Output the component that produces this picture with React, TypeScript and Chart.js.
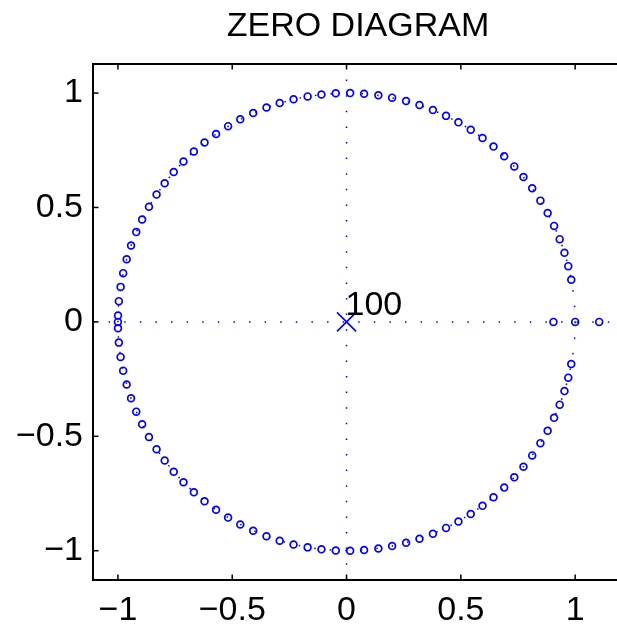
import React, { useEffect, useRef } from 'react';
import { Chart, registerables } from 'chart.js';

Chart.register(...registerables);

// Zeros on the unit circle, angle in degrees (upper half)
const zeroAnglesUpper = [
  178.4, 174.8, 171.2, 167.7, 164.1, 160.5, 156.9, 153.4, 149.8, 146.2,
  142.7, 139.1, 135.5, 131.9, 128.4, 124.8, 121.2, 117.7, 114.1, 110.5,
  107.0, 103.4, 99.8, 96.3, 92.7, 89.1, 85.6, 82.0, 78.5, 74.9,
  71.4, 67.8, 64.2, 60.7, 57.1, 53.5, 50.0, 46.4, 42.8, 39.3,
  35.7, 32.0, 28.4, 24.8, 21.2, 17.6, 14.1, 10.6,
];
// Lower half (conjugates)
const zeroAnglesLower = [
  -178.4, -174.8, -171.2, -167.7, -164.1, -160.5, -156.9, -153.4, -149.8, -146.2,
  -142.7, -139.1, -135.5, -131.9, -128.4, -124.8, -121.2, -117.7, -114.1, -110.5,
  -107.0, -103.4, -99.8, -96.3, -92.7, -89.1, -85.6, -82.0, -78.5, -74.9,
  -71.4, -67.8, -64.2, -60.7, -57.1, -53.5, -50.0, -46.4, -42.8, -39.3,
  -35.7, -32.0, -28.4, -24.8, -21.2, -17.6, -14.1, -10.6,
];
const zeroAngleMinusOne = [180];
// Zeros on the real axis
const realZeros = [0.905, 1.0, 1.105];

// Pole
const poleRe = [0];
const poleIm = [0];
const poleMultiplicity = '100';

const titleText = 'ZERO DIAGRAM';
const xTicks = [-1, -0.5, 0, 0.5, 1];
const xTickLabels = ['\u22121', '\u22120.5', '0', '0.5', '1'];
const yTicks = [-1, -0.5, 0, 0.5, 1];
const yTickLabels = ['\u22121', '\u22120.5', '0', '0.5', '1'];

const X_MIN = -1.109;
const X_MAX = 1.183;
const Y_MIN = -1.128;
const Y_MAX = 1.127;

const BLUE = '#0000ff';
const FONT_FAMILY = '"Liberation Sans", Arial, Helvetica, sans-serif';
const FONT_SIZE = 34;

const zplanePlugin = {
  id: 'zplaneDecor',
  beforeDatasetsDraw(chart: any) {
    const { ctx, chartArea: a, scales } = chart;
    const x = scales.x;
    const y = scales.y;
    const x0 = x.getPixelForValue(0);
    const y0 = y.getPixelForValue(0);
    const r = x.getPixelForValue(1) - x0;
    ctx.save();
    ctx.beginPath();
    ctx.rect(a.left, a.top, a.right - a.left, a.bottom - a.top);
    ctx.clip();
    ctx.strokeStyle = BLUE;
    ctx.lineWidth = 1.5;
    ctx.setLineDash([1.5, 14.1]);
    ctx.beginPath();
    ctx.moveTo(a.left, y0);
    ctx.lineTo(a.right, y0);
    ctx.stroke();
    ctx.beginPath();
    ctx.moveTo(x0, a.top);
    ctx.lineTo(x0, a.bottom);
    ctx.stroke();
    ctx.beginPath();
    ctx.arc(x0, y0, r, 0, Math.PI * 2);
    ctx.stroke();
    ctx.restore();
  },
  afterDraw(chart: any) {
    const { ctx, chartArea: a, scales } = chart;
    const x = scales.x;
    const y = scales.y;
    ctx.save();
    ctx.strokeStyle = '#000';
    ctx.lineWidth = 2;
    ctx.setLineDash([]);
    // top border
    ctx.beginPath();
    ctx.moveTo(a.left - 1, a.top);
    ctx.lineTo(a.right, a.top);
    ctx.stroke();
    // inward ticks
    ctx.lineWidth = 1.5;
    const tl = 5.5;
    xTicks.forEach((v) => {
      const px = x.getPixelForValue(v);
      ctx.beginPath();
      ctx.moveTo(px, a.bottom);
      ctx.lineTo(px, a.bottom - tl);
      ctx.moveTo(px, a.top);
      ctx.lineTo(px, a.top + tl);
      ctx.stroke();
    });
    yTicks.forEach((v) => {
      const py = y.getPixelForValue(v);
      ctx.beginPath();
      ctx.moveTo(a.left, py);
      ctx.lineTo(a.left + tl, py);
      ctx.stroke();
    });
    // title
    ctx.fillStyle = '#000';
    ctx.font = `${FONT_SIZE}px ${FONT_FAMILY}`;
    ctx.textAlign = 'center';
    ctx.textBaseline = 'alphabetic';
    ctx.fillText(titleText, (a.left + a.right) / 2 + 3, 36);
    // multiplicity label
    const px0 = x.getPixelForValue(poleRe[0]);
    const py0 = y.getPixelForValue(poleIm[0]);
    ctx.textAlign = 'left';
    ctx.fillText(poleMultiplicity, px0 - 1, py0 - 7);
    ctx.restore();
  },
};

export default function App() {
  const canvasRef = useRef<HTMLCanvasElement | null>(null);

  useEffect(() => {
    const canvas = canvasRef.current;
    if (!canvas) return;
    const toRad = Math.PI / 180;
    const circleAngles = [...zeroAnglesUpper, ...zeroAngleMinusOne, ...zeroAnglesLower];
    const zeroPts = circleAngles.map((d) => ({ x: Math.cos(d * toRad), y: Math.sin(d * toRad) }));
    realZeros.forEach((v) => zeroPts.push({ x: v, y: 0 }));
    const polePts = poleRe.map((v, i) => ({ x: v, y: poleIm[i] }));

    const tickFont = { family: FONT_FAMILY, size: FONT_SIZE };

    const chart = new Chart(canvas, {
      type: 'scatter',
      data: {
        datasets: [
          {
            label: 'zeros',
            data: zeroPts,
            pointStyle: 'circle',
            pointRadius: 3.4,
            pointBorderWidth: 1.7,
            borderColor: BLUE,
            backgroundColor: 'rgba(0,0,0,0)',
            pointBackgroundColor: 'rgba(0,0,0,0)',
            pointBorderColor: BLUE,
            showLine: false,
          } as any,
          {
            label: 'poles',
            data: polePts,
            pointStyle: 'crossRot',
            pointRadius: 13.5,
            pointBorderWidth: 1.6,
            borderColor: BLUE,
            pointBorderColor: BLUE,
            showLine: false,
          } as any,
        ],
      },
      options: {
        responsive: false,
        animation: false,
        devicePixelRatio: 1,
        layout: { autoPadding: false, padding: { top: 64, left: 0, right: 0, bottom: 0 } },
        plugins: {
          legend: { display: false },
          title: { display: false },
          tooltip: { enabled: false },
        },
        events: [],
        scales: {
          x: {
            type: 'linear',
            position: 'bottom',
            min: X_MIN,
            max: X_MAX,
            afterBuildTicks: (s: any) => {
              s.ticks = xTicks.map((v) => ({ value: v }));
            },
            afterFit: (s: any) => {
              s.height = 48;
              s.paddingLeft = 0;
              s.paddingRight = 0;
            },
            grid: { display: false, drawTicks: false },
            border: { display: true, color: '#000', width: 2 },
            ticks: {
              font: tickFont,
              color: '#000',
              padding: 10,
              maxRotation: 0,
              autoSkip: false,
              callback: (v: any) => {
                const i = xTicks.indexOf(Number(v));
                return i >= 0 ? xTickLabels[i] : '';
              },
            },
          },
          y: {
            type: 'linear',
            position: 'left',
            min: Y_MIN,
            max: Y_MAX,
            afterBuildTicks: (s: any) => {
              s.ticks = yTicks.map((v) => ({ value: v }));
            },
            afterFit: (s: any) => {
              s.width = 93;
              s.paddingTop = 0;
              s.paddingBottom = 0;
            },
            grid: { display: false, drawTicks: false },
            border: { display: true, color: '#000', width: 2 },
            ticks: {
              font: tickFont,
              color: '#000',
              padding: 10,
              autoSkip: false,
              callback: (v: any) => {
                const i = yTicks.indexOf(Number(v));
                return i >= 0 ? yTickLabels[i] : '';
              },
            },
          },
        },
      } as any,
      plugins: [zplanePlugin],
    });

    return () => {
      chart.destroy();
    };
  }, []);

  return (
    <canvas
      ref={canvasRef}
      width={617}
      height={628}
      style={{ position: 'fixed', left: 0, top: 0, display: 'block', background: '#fff' }}
    />
  );
}
